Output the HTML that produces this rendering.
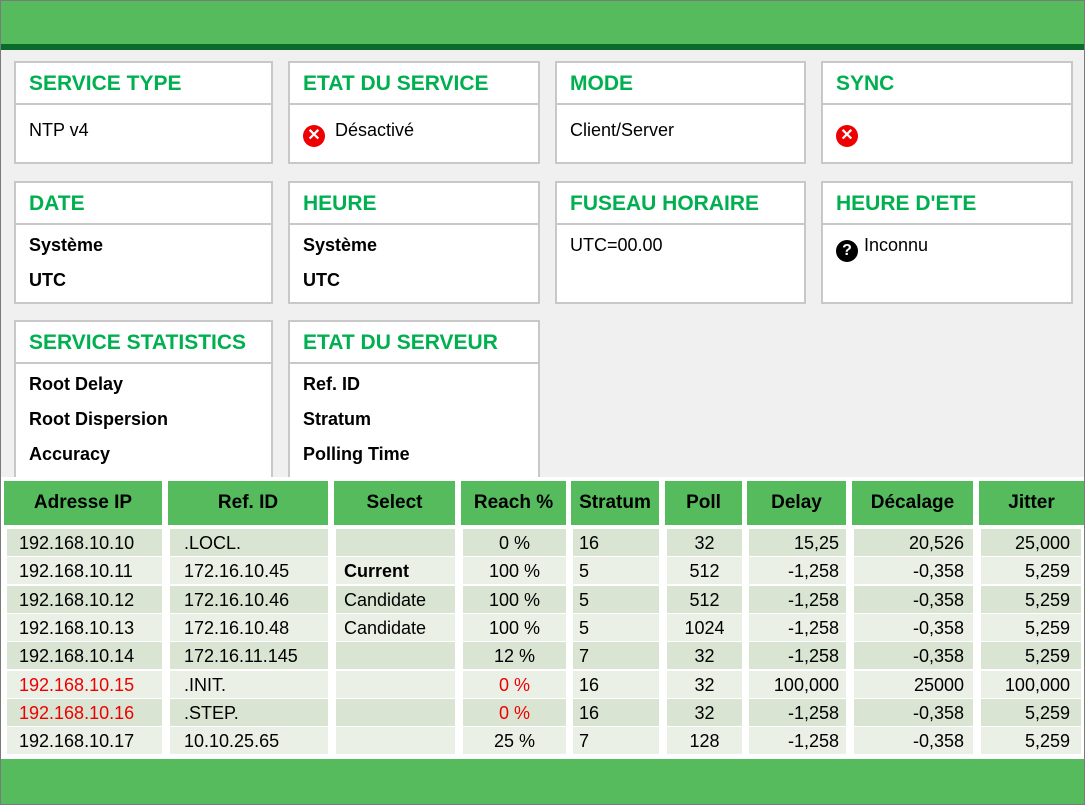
<!DOCTYPE html>
<html><head><meta charset="utf-8"><style>
body{margin:0;width:1085px;height:805px;overflow:hidden;font-family:"Liberation Sans",sans-serif;}
#root{position:absolute;left:0;top:0;width:1083px;height:803px;border:1px solid #7a7a7a;background:#f0f0f0;overflow:hidden}
.abs{position:absolute}
.card{position:absolute;background:#fff;border:2px solid #c8c8c8;box-sizing:border-box}
.card .h{height:40px;border-bottom:2px solid #c8c8c8;color:#00b050;font-weight:bold;font-size:21px;line-height:42px;padding-left:13px}
.card .b{padding-left:13px;font-size:18px;color:#000}
.card .b div{height:35px;line-height:35px}
.bold{font-weight:bold}
.ic{display:inline-block;width:22px;height:22px;border-radius:50%;color:#fff;text-align:center;font-weight:bold;font-size:16px;line-height:22px;vertical-align:-4px;margin-right:10px}
.th{position:absolute;background:#55bb5d;font-weight:bold;font-size:19px;text-align:center;line-height:44px;top:480px;height:44px}
.td{position:absolute;font-size:18px;line-height:28px;height:27px;box-sizing:border-box;white-space:nowrap}
</style></head><body>
<div id="root">
<div class="abs" style="left:0;top:0;width:1083px;height:43px;background:#55bb5d"></div>
<div class="abs" style="left:0;top:43px;width:1083px;height:6px;background:#0c6a2b"></div>

<div class="card" style="left:13px;top:60px;width:259px;height:103px"><div class="h">SERVICE TYPE</div><div class="b" style="padding-top:8px"><div>NTP v4</div></div></div>
<div class="card" style="left:287px;top:60px;width:252px;height:103px"><div class="h">ETAT DU SERVICE</div><div class="b" style="padding-top:8px"><div><span class="ic" style="background:#e00">✕</span>Désactivé</div></div></div>
<div class="card" style="left:554px;top:60px;width:251px;height:103px"><div class="h">MODE</div><div class="b" style="padding-top:8px"><div>Client/Server</div></div></div>
<div class="card" style="left:820px;top:60px;width:252px;height:103px"><div class="h">SYNC</div><div class="b" style="padding-top:8px"><div><span class="ic" style="background:#e00">✕</span></div></div></div>

<div class="card" style="left:13px;top:180px;width:259px;height:123px"><div class="h">DATE</div><div class="b bold" style="padding-top:3px"><div>Système</div><div>UTC</div></div></div>
<div class="card" style="left:287px;top:180px;width:252px;height:123px"><div class="h">HEURE</div><div class="b bold" style="padding-top:3px"><div>Système</div><div>UTC</div></div></div>
<div class="card" style="left:554px;top:180px;width:251px;height:123px"><div class="h">FUSEAU HORAIRE</div><div class="b" style="padding-top:3px"><div>UTC=00.00</div></div></div>
<div class="card" style="left:820px;top:180px;width:252px;height:123px"><div class="h">HEURE D'ETE</div><div class="b" style="padding-top:3px"><div><span class="ic" style="background:#000;margin-right:6px">?</span>Inconnu</div></div></div>

<div class="card" style="left:13px;top:319px;width:259px;height:180px"><div class="h">SERVICE STATISTICS</div><div class="b bold" style="padding-top:3px"><div>Root Delay</div><div>Root Dispersion</div><div>Accuracy</div></div></div>
<div class="card" style="left:287px;top:319px;width:252px;height:180px"><div class="h">ETAT DU SERVEUR</div><div class="b bold" style="padding-top:3px"><div>Ref. ID</div><div>Stratum</div><div>Polling Time</div></div></div>

<div class="abs" style="left:0;top:476px;width:1083px;height:282px;background:#fff"></div>
<div id="tbl"></div>
<div class="abs" style="left:0;top:758px;width:1083px;height:45px;background:#55bb5d"></div>
</div>
<script>
const headers=["Adresse IP","Ref. ID","Select","Reach %","Stratum","Poll","Delay","Décalage","Jitter"];
const ips=["192.168.10.10","192.168.10.11","192.168.10.12","192.168.10.13","192.168.10.14","192.168.10.15","192.168.10.16","192.168.10.17"];
const refs=[".LOCL.","172.16.10.45","172.16.10.46","172.16.10.48","172.16.11.145",".INIT.",".STEP.","10.10.25.65"];
const selects=["","Current","Candidate","Candidate","","","",""];
const reach=["0 %","100 %","100 %","100 %","12 %","0 %","0 %","25 %"];
const stratum=["16","5","5","5","7","16","16","7"];
const poll=["32","512","512","1024","32","32","32","128"];
const delay=["15,25","-1,258","-1,258","-1,258","-1,258","100,000","-1,258","-1,258"];
const offset=["20,526","-0,358","-0,358","-0,358","-0,358","25000","-0,358","-0,358"];
const jitter=["25,000","5,259","5,259","5,259","5,259","100,000","5,259","5,259"];
const redRows=[5,6];
const colL=[3,167,333,460,570,664,746,851,978], colR=[161,327,454,565,658,741,845,972,1083];
const align=["left","left","left","center","left","center","right","right","right"];
const pad=[12,14,8,0,6,0,7,9,11];
const cols=[ips,refs,selects,reach,stratum,poll,delay,offset,jitter];
const names=["ip","ref-id","select","reach","stratum","poll","delay","offset","jitter"];
const tbl=document.getElementById('tbl');
headers.forEach((h,i)=>{
 const d=document.createElement('div');d.className='th';
 d.style.left=colL[i]+'px';d.style.width=(colR[i]-colL[i])+'px';d.textContent=h;
 
 
 tbl.appendChild(d);
});
ips.forEach((_,r)=>{
 const top=528+r*28.3;
 cols.forEach((c,i)=>{
  const d=document.createElement('div');d.className='td';
  const l=i===0?6:colL[i]+2;
  d.style.left=l+'px';d.style.width=(colR[i]-l-(i===8?3:0))+'px';d.style.top=top+'px';
  d.style.background=r%2===0?'#d9e4d3':'#eaf0e6';
  d.style.textAlign=align[i];
  if(align[i]==='left')d.style.paddingLeft=pad[i]+'px';
  if(align[i]==='right')d.style.paddingRight=pad[i]+'px';
  d.textContent=c[r];
  if(redRows.includes(r)&&(i===0||i===3))d.style.color='#e00';
  if(i===2&&c[r]==='Current')d.style.fontWeight='bold';
  
  
  tbl.appendChild(d);
 });
});
</script>
</body></html>
